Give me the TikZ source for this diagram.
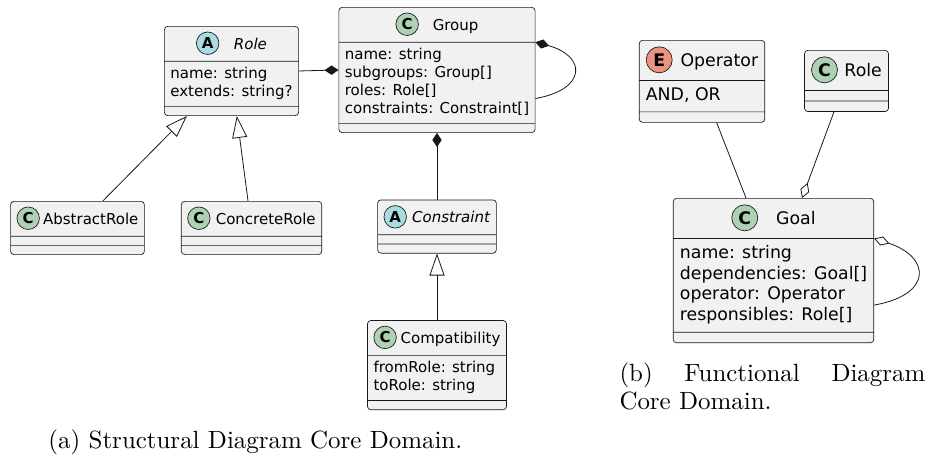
\documentclass[tikz,border=0pt]{standalone}
\usepackage{fontspec}
\newfontfamily\umlfont{DejaVu Sans}
\usetikzlibrary{shapes.multipart, positioning, arrows.meta}

\definecolor{umlfill}{HTML}{F1F1F1}
\definecolor{umlline}{HTML}{181818}
\definecolor{clsgreen}{HTML}{ADD1B2}
\definecolor{absblue}{HTML}{A9DCDF}
\definecolor{enumred}{HTML}{EB937F}

\newcommand\badge[2]{\edef\bsz{\the\dimexpr1.5em\relax}\edef\bbase{\the\dimexpr-0.4em\relax}%
  \rule[-0.49em]{0pt}{1.71em}\tikz[baseline=\bbase]\node[circle, anchor=center, draw=umlline,
  fill=#2, line width=0.5pt, inner sep=0pt, minimum size=\bsz, font=\bfseries] at (0,0) {#1};}
\newcommand\attrs[1]{\begin{tabular}{@{}l@{}}#1\end{tabular}}
\newcommand\noattrs{\rule{1pt}{0pt}}

\tikzset{
  umlclass/.style={rectangle split, rectangle split parts=3,
    rectangle split part align={center,left,left},
    rectangle split empty part height=0pt, rectangle split empty part depth=0pt,
    draw=umlline, fill=umlfill, line width=0.5pt, rounded corners=2.5pt,
    inner xsep=4.5pt, inner ysep=3.2pt,
    font=\umlfont\fontsize{11.25}{13.5}\selectfont},
  umlbig/.style={umlclass, font=\umlfont\fontsize{13}{15.6}\selectfont,
    inner xsep=5pt, inner ysep=3.7pt},
  link/.style={draw=umlline, line width=0.6pt},
  comp/.style={link, -{Diamond[length=10.5pt,width=7pt]}},
  agg/.style={link, -{Diamond[open,length=12pt,width=7pt]}},
  inherit/.style={link, -{Triangle[open,length=16.5pt,width=11.25pt]}},
  caption/.style={font=\fontsize{10}{11.45}\selectfont, scale=1.87, transform shape,
    inner sep=0pt, align=left}
}

\begin{document}
\begin{tikzpicture}[x=0.75pt,y=-0.75pt]
\useasboundingbox (0,0) rectangle (936,462);

\node[umlclass, anchor=north] (role) at (231.5,26)
  {\badge{A}{absblue}\hspace{11pt}\textit{Role}\nodepart{two}\attrs{name: string\\extends: string?}\nodepart{three}\noattrs};
\node[umlclass, anchor=north] (group) at (437,7)
  {\badge{C}{clsgreen}\hspace{10.5pt}Group\nodepart{two}\attrs{name: string\\subgroups: Group[]\\roles: Role[]\\constraints: Constraint[]}\nodepart{three}\noattrs};
\node[umlclass, below=50pt of group] (constraint)
  {\badge{A}{absblue}\hspace{4pt}\textit{Constraint}\nodepart{two}\noattrs\nodepart{three}\noattrs};
\node[umlclass, below=50pt of constraint] (compat)
  {\badge{C}{clsgreen}\hspace{3pt}Compatibility\nodepart{two}\attrs{fromRole: string\\toRole: string}\nodepart{three}\noattrs};
\node[umlclass, anchor=north] (abstractrole) at (77.5,201)
  {\badge{C}{clsgreen}\hspace{2.5pt}AbstractRole\nodepart{two}\noattrs\nodepart{three}\noattrs};
\node[umlclass, anchor=north] (concreterole) at (251.5,201)
  {\badge{C}{clsgreen}\hspace{4pt}ConcreteRole\nodepart{two}\noattrs\nodepart{three}\noattrs};

\node[umlbig, anchor=north] (operator) at (702,40)
  {\badge{E}{enumred}\hspace{6pt}Operator\nodepart{two}\attrs{AND, OR}\nodepart{three}\noattrs};
\node[umlbig, anchor=north] (roleb) at (846.5,50)
  {\badge{C}{clsgreen}\hspace{5pt}Role\nodepart{two}\noattrs\nodepart{three}\noattrs};
\node[umlbig, anchor=north] (goal) at (773.5,198)
  {\badge{C}{clsgreen}\hspace{13.5pt}Goal\nodepart{two}\attrs{name: string\\dependencies: Goal[]\\operator: Operator\\responsibles: Role[]}\nodepart{three}\noattrs};

\draw[comp] (role.east) -- (group.west);
\draw[comp] ([yshift=-21.4pt]group.east) to[out=10,in=-15,looseness=2.4] (group.text split east);
\draw[comp] (constraint.north) -- (group.south);
\draw[inherit] (compat.north) -- (constraint.south);
\draw[inherit] ([xshift=19pt]abstractrole.north) -- ([xshift=-33.4pt]role.south);
\draw[inherit] ([xshift=-2.6pt]concreterole.north) -- ([xshift=4pt]role.south);

\draw[link] ([xshift=11pt]operator.south) -- ([xshift=-20.6pt]goal.north);
\draw[agg] ([xshift=-9.4pt]roleb.south) -- ([xshift=21.4pt]goal.north);
\draw[agg] ([yshift=-25.9pt]goal.east) to[out=10,in=-18,looseness=2.3] (goal.text split east);

\coordinate (capapos) at (48,448);
\node[caption, anchor=base west] (capa) at (capapos) {(a) Structural Diagram Core Domain.};
\coordinate (capbpos) at (619,362);
\node[caption, anchor=north west] (capb) at (capbpos)
  {\hbox to 122.7pt{(b)\hfil Functional\hfil Diagram}\\Core Domain.};
\end{tikzpicture}
\end{document}
